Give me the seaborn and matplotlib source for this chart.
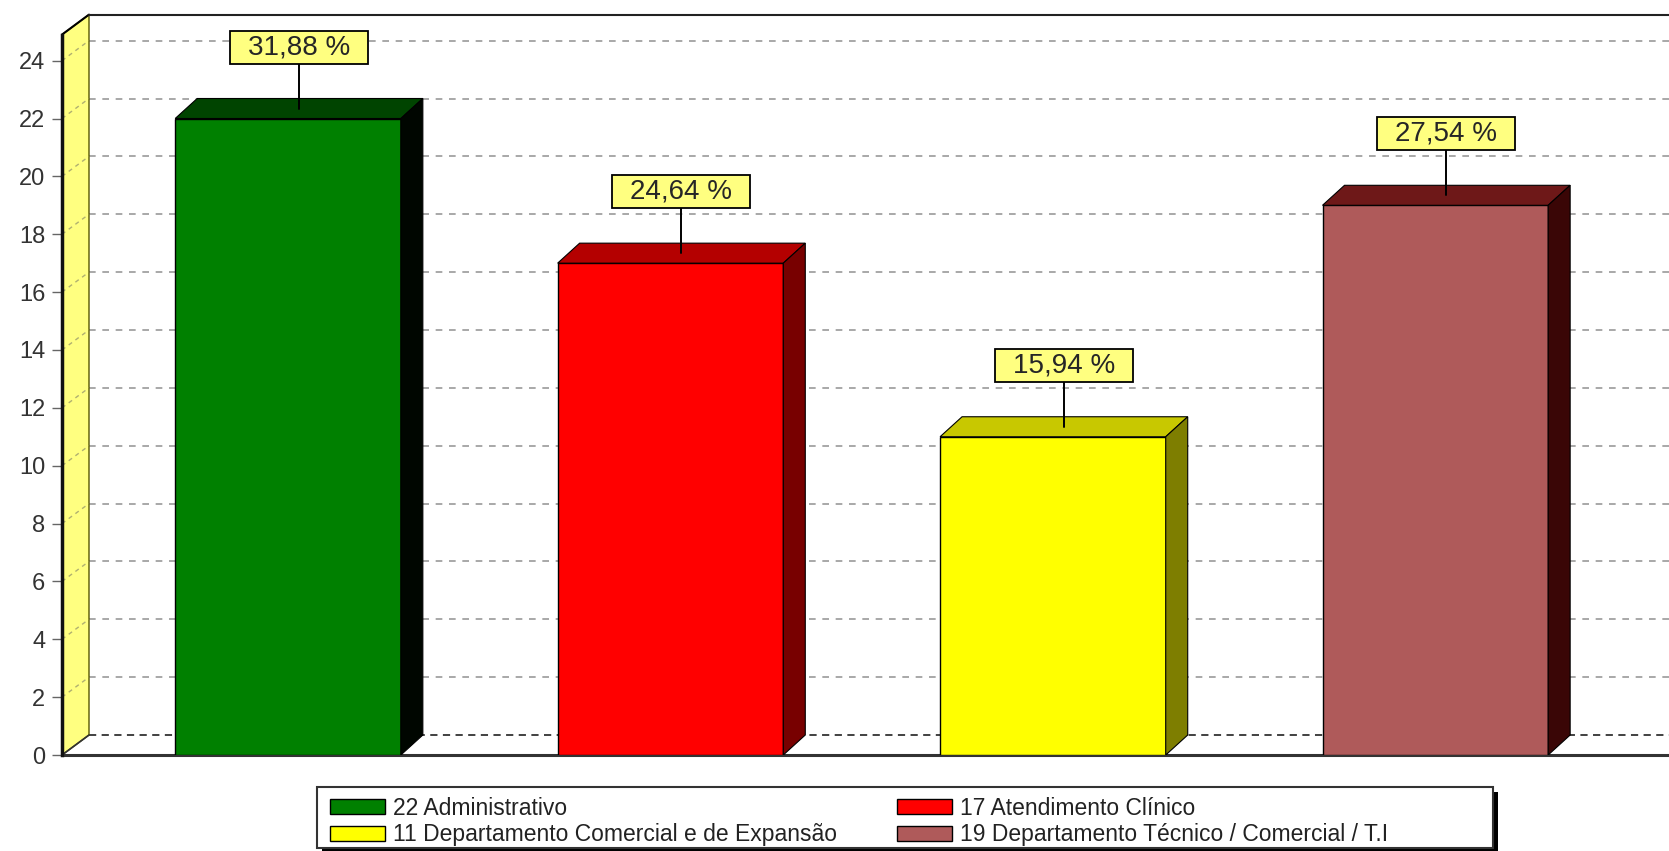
import matplotlib
matplotlib.use('Agg')
import matplotlib.pyplot as plt
from matplotlib.patches import Polygon, Rectangle, Patch
import seaborn as sns
import pandas as pd

# Data
categories = ['Administrativo', 'Atendimento Clínico',
              'Departamento Comercial e de Expansão',
              'Departamento Técnico / Comercial / T.I']
counts = [22, 17, 11, 19]
pct_labels = ['31,88 %', '24,64 %', '15,94 %', '27,54 %']
y_ticks = list(range(0, 25, 2))

front_colors = ['#008000', '#FF0000', '#FFFF00', '#AF5A5A']
top_colors = ['#004400', '#B40000', '#C8C800', '#6E1818']
side_colors = ['#000600', '#780000', '#7E7E00', '#3A0606']

sns.set_style('white')
plt.rcParams['font.family'] = ['Liberation Sans', 'DejaVu Sans']

W, H = 1669, 851
fig = plt.figure(figsize=(W / 100, H / 100), dpi=100)
# front plane: x=62px .. right edge, value 0 at y=755px
ax = fig.add_axes([62 / W, (H - 755) / H, (W - 62) / W, (755 - 34.6) / H])

df = pd.DataFrame({'cat': categories, 'n': counts})
sns.barplot(data=df, x='cat', y='n', hue='cat', palette=front_colors,
            legend=False, width=0.59, saturation=1, edgecolor='black',
            linewidth=1, zorder=3, ax=ax)

x_lo, x_hi = -0.591, 3.611
y_top = 24.9
ax.set_xlim(x_lo, x_hi)
ax.set_ylim(0, y_top)

# pixel -> data conversion for the fake depth
px_x = (W - 62) / (x_hi - x_lo)
px_y = (755 - 34.6) / y_top
bdx, bdy = 22 / px_x, 20 / px_y   # bar depth
wdx, wdy = 27 / px_x, 20 / px_y   # wall depth

# back wall grid lines
for v in y_ticks:
    if v == 0:
        ax.plot([x_lo + wdx, x_hi], [wdy, wdy], color='#333333', lw=1.3,
                dashes=(4, 3), zorder=1)
    else:
        ax.plot([x_lo + wdx, x_hi], [v + wdy, v + wdy], color='#9a9a9a',
                lw=1.2, dashes=(4, 4), zorder=1)

# yellow left wall
wall = Polygon([(x_lo, 0), (x_lo, y_top), (x_lo + wdx, y_top + wdy),
                (x_lo + wdx, wdy)], closed=True, facecolor='#FFFF80',
               edgecolor='#555500', lw=1, zorder=1.5, clip_on=False)
ax.add_patch(wall)
for v in y_ticks[1:]:
    ax.plot([x_lo, x_lo + wdx], [v, v + wdy], color='#b0b070', lw=1,
            dashes=(3, 3), zorder=1.6)

# frame edges
ax.plot([x_lo, x_lo + wdx], [y_top, y_top + wdy], color='black', lw=1.5,
        zorder=2, clip_on=False)
ax.plot([x_lo + wdx, x_hi], [y_top + wdy, y_top + wdy], color='#222222',
        lw=1.5, zorder=2, clip_on=False)
ax.plot([x_lo, x_lo + wdx], [0, wdy], color='#333333', lw=1.2, zorder=2)
ax.plot([x_lo, x_hi], [0, 0], color='#333333', lw=2.2, zorder=2,
        clip_on=False)

# 3d faces of bars + value labels
for i, bar in enumerate(ax.patches[:len(counts)]):
    l = bar.get_x()
    r = l + bar.get_width()
    h = bar.get_height()
    top = Polygon([(l, h), (l + bdx, h + bdy), (r + bdx, h + bdy), (r, h)],
                  closed=True, facecolor=top_colors[i], edgecolor='black',
                  lw=0.8, zorder=3)
    side = Polygon([(r, 0), (r, h), (r + bdx, h + bdy), (r + bdx, bdy)],
                   closed=True, facecolor=side_colors[i], edgecolor='black',
                   lw=0.8, zorder=3)
    ax.add_patch(top)
    ax.add_patch(side)

    cx = l + bar.get_width() / 2 + bdx / 2
    yc = h + 71.5 / px_y
    bw, bh = 138 / px_x, 33 / px_y
    ax.plot([cx, cx], [yc - bh / 2, h + bdy / 2], color='black', lw=1.4,
            zorder=5, clip_on=False)
    ax.add_patch(Rectangle((cx - bw / 2, yc - bh / 2), bw, bh,
                           facecolor='#FFFF80', edgecolor='black', lw=1.3,
                           zorder=6, clip_on=False))
    ax.text(cx, yc, pct_labels[i], ha='center', va='center', fontsize=20,
            color='#262626', zorder=7)

# axes styling
ax.set_xticks([])
ax.set_xlabel('')
ax.set_ylabel('')
ax.set_yticks(y_ticks)
ax.tick_params(axis='y', left=True, length=7, width=1, color='#666666',
               labelsize=17, labelcolor='#333333', pad=5)
for s in ['top', 'right', 'bottom']:
    ax.spines[s].set_visible(False)
ax.spines['left'].set_linewidth(2.5)
ax.spines['left'].set_color('#111111')
ax.spines['left'].set_zorder(2)
ax.set_facecolor('white')

# legend box (drawn by hand: 317..1493 x 787..848 px) with black shadow
lx0, lx1, ly0, ly1 = 317, 1493, 787, 848
fig.add_artist(Rectangle(((lx0 + 5) / W, (H - ly1 - 5) / H),
                         (lx1 - lx0) / W, (ly1 - ly0) / H,
                         transform=fig.transFigure, facecolor='black',
                         edgecolor='none', zorder=4))
fig.add_artist(Rectangle((lx0 / W, (H - ly1) / H), (lx1 - lx0) / W,
                         (ly1 - ly0) / H, transform=fig.transFigure,
                         facecolor='white', edgecolor='#333333', lw=1.5,
                         zorder=4.5))

# legend entries (columns: first two entries left, last two right)
order = [0, 2, 1, 3]
handles = [Patch(facecolor=front_colors[i], edgecolor='black', lw=1,
                 label=f'{counts[i]} {categories[i]}') for i in order]
leg = fig.legend(handles=handles, ncol=2, loc='center left',
                 bbox_to_anchor=(330 / W, (H - ly1 - 4) / H, 0,
                                 (ly1 - ly0) / H),
                 borderaxespad=0, borderpad=0, fontsize=16.5,
                 frameon=False, handlelength=2.4, handleheight=0.62,
                 handletextpad=0.35, labelspacing=0.17, columnspacing=2.6)
leg.set_zorder(5)
for t in leg.get_texts():
    t.set_color('#222222')

fig.savefig('out.png', dpi=100)
